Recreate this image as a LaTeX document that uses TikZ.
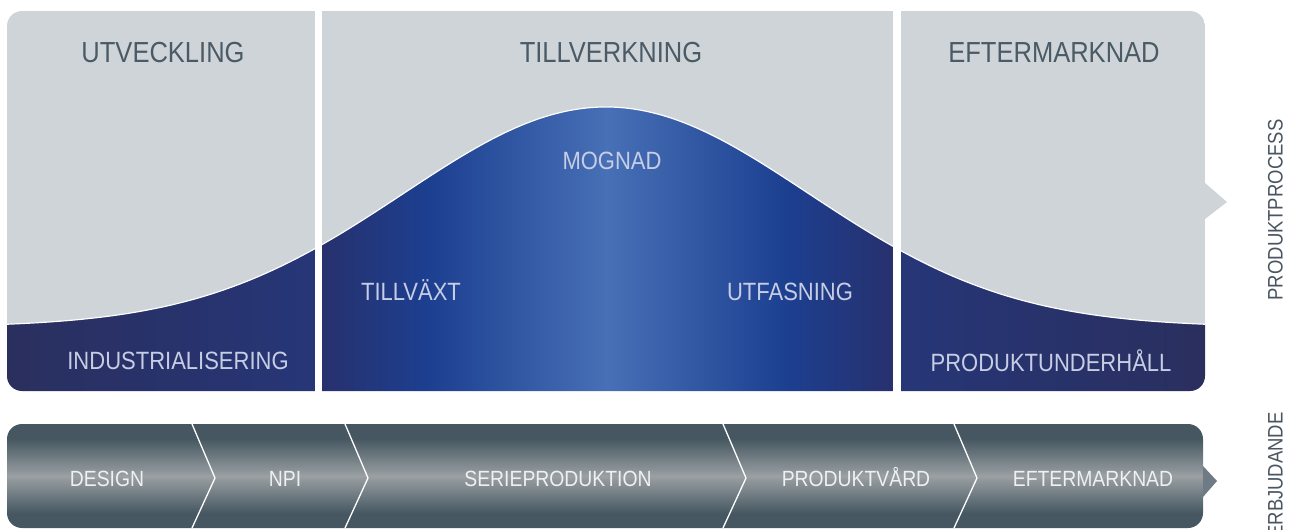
\documentclass[tikz,border=0pt]{standalone}
\usepackage{fontspec}
\setmainfont[FakeStretch=0.88]{Liberation Sans}
\definecolor{topgrey}{HTML}{CFD4D8}
\definecolor{titlecol}{HTML}{4A5B66}
\definecolor{lblcol}{HTML}{C6CDE4}
\definecolor{navyA}{HTML}{2A2F5E}
\definecolor{navyB}{HTML}{263678}
\definecolor{midL}{HTML}{28306C}
\definecolor{midR}{HTML}{1C3F90}
\definecolor{midC}{HTML}{4770B6}
\definecolor{bdark}{HTML}{465761}
\definecolor{blight}{HTML}{9AA0A3}
\definecolor{tipgrey}{HTML}{6E7B84}
\definecolor{sidecol}{HTML}{4A5560}
\definecolor{bartxt}{HTML}{EEF0F2}
\pgfdeclarehorizontalshading{midblue}{100bp}{color(0bp)=(midL); color(25bp)=(midL); color(34.5bp)=(midR); color(50bp)=(midC); color(65.5bp)=(midR); color(75bp)=(midL); color(100bp)=(midL)}
\pgfdeclareverticalshading{barshade}{100bp}{color(0bp)=(bdark); color(25bp)=(bdark); color(32bp)=(bdark); color(50bp)=(blight); color(68bp)=(bdark); color(75bp)=(bdark); color(100bp)=(bdark)}
\tikzset{
  title/.style={inner sep=0pt, text depth=0pt, text height=20.8pt, text=titlecol, font=\fontsize{29}{30}\selectfont},
  inlbl/.style={inner sep=0pt, text depth=0pt, text height=18pt, text=lblcol, font=\fontsize{25}{26}\selectfont},
  barlbl/.style={inner sep=0pt, text depth=0pt, text height=15.8pt, text=bartxt, font=\fontsize{22}{23}\selectfont},
  sidelbl/.style={inner sep=0pt, text depth=0pt, text height=15pt, text=sidecol, font=\fontsize{21}{22}\selectfont, rotate=90},
  chev/.style={draw=white, line width=1.3pt},
  sep/.style={fill=white}
}
\newcommand{\gcurve}[2]{plot[domain=#1:#2, samples=80, smooth] (\x,{327-220*exp(-0.5*((\x-606)/202.6)*((\x-606)/202.6))})}
\begin{document}
\begin{tikzpicture}[x=1pt, y=-1pt]
\useasboundingbox (0,0) rectangle (1294,530);
% top panel
\begin{scope}
  \clip[rounded corners=15pt] (7,11) rectangle (1205,391);
  \fill[topgrey] (7,11) rectangle (1205,391);
  \shade[left color=navyA, right color=navyB] \gcurve{7}{318} -- (318,391) -- (7,391) -- cycle;
  \shade[shading=midblue] \gcurve{318}{897} -- (897,391) -- (318,391) -- cycle;
  \shade[left color=navyB, right color=navyA] \gcurve{897}{1205} -- (1205,391) -- (897,391) -- cycle;
  \draw[white, line width=1.2pt] \gcurve{7}{1205};
\end{scope}
\fill[sep] (315,5) rectangle (322,395);
\fill[sep] (893,5) rectangle (901,395);
\fill[topgrey] (1205,183) -- (1227,202) -- (1205,219) -- cycle;
% top labels
\node[title] (utv) at (163,52) {UTVECKLING};
\node[title] (till) at (611,52) {TILLVERKNING};
\node[title] (eft) at (1054,52) {EFTERMARKNAD};
\node[inlbl] (mog) at (612,160) {MOGNAD};
\node[inlbl] (tvx) at (411,291) {TILLVÄXT};
\node[inlbl] (utf) at (790,291) {UTFASNING};
\node[inlbl] (ind) at (178,360) {INDUSTRIALISERING};
\node[inlbl] (puh) at (1051,362) {PRODUKTUNDERHÅLL};
% bottom bar
\shade[shading=barshade, rounded corners=15pt] (7,424) rectangle (1203,528);
\fill[tipgrey] (1203,466) -- (1217,481) -- (1203,497) -- cycle;
\coordinate (c1t) at (192,424); \coordinate (c1m) at (215,478); \coordinate (c1b) at (192,528);
\coordinate (c2t) at (345,424); \coordinate (c2m) at (368,478); \coordinate (c2b) at (345,528);
\coordinate (c3t) at (723,424); \coordinate (c3m) at (746,478); \coordinate (c3b) at (723,528);
\coordinate (c4t) at (954,424); \coordinate (c4m) at (977,478); \coordinate (c4b) at (954,528);
\draw[chev] (c1t) -- (c1m) -- (c1b);
\draw[chev] (c2t) -- (c2m) -- (c2b);
\draw[chev] (c3t) -- (c3m) -- (c3b);
\draw[chev] (c4t) -- (c4m) -- (c4b);
\node[barlbl] (des) at (107,479) {DESIGN};
\node[barlbl] (npi) at (285,479) {NPI};
\node[barlbl] (ser) at (558,479) {SERIEPRODUKTION};
\node[barlbl] (pv) at (856,479) {PRODUKTVÅRD};
\node[barlbl] (em) at (1093,479) {EFTERMARKNAD};
% side labels
\node[sidelbl] (pp) at (1275,210) {PRODUKTPROCESS};
\node[sidelbl] (erb) at (1275,475) {ERBJUDANDE};
\end{tikzpicture}
\end{document}
